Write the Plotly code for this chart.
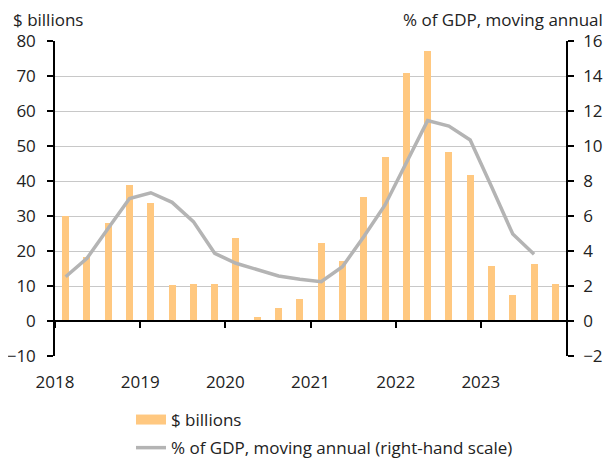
import plotly.graph_objects as go

quarters = ["2018Q1", "2018Q2", "2018Q3", "2018Q4",
            "2019Q1", "2019Q2", "2019Q3", "2019Q4",
            "2020Q1", "2020Q2", "2020Q3", "2020Q4",
            "2021Q1", "2021Q2", "2021Q3", "2021Q4",
            "2022Q1", "2022Q2", "2022Q3", "2022Q4",
            "2023Q1", "2023Q2", "2023Q3", "2023Q4"]
billions = [30.1, 18.2, 28.0, 38.9,
            33.6, 10.4, 10.7, 10.7,
            23.8, 1.2, 3.7, 6.4,
            22.4, 17.2, 35.4, 46.9,
            71.0, 77.1, 48.2, 41.7,
            15.8, 7.4, 16.2, 10.7]
pct_quarters = quarters[:23]
pct_gdp = [2.53, 3.58, 5.3, 7.0,
           7.33, 6.78, 5.68, 3.87,
           3.3, 2.91, 2.57, 2.38,
           2.25, 3.1, 4.82, 6.63,
           9.0, 11.45, 11.14, 10.34,
           7.68, 4.97, 3.81]
year_ticks = [2018, 2019, 2020, 2021, 2022, 2023]
left_ticks = [-10, 0, 10, 20, 30, 40, 50, 60, 70, 80]
right_ticks = [-2, 0, 2, 4, 6, 8, 10, 12, 14, 16]


def qpos(q):
    return int(q[:4]) + (int(q[-1]) - 0.5) / 4


FONT = "Open Sans"
BAR_C = "#FFC880"
LINE_C = "#B4B4B4"
FS = 17

fig = go.Figure()
fig.add_trace(go.Bar(
    x=[qpos(q) for q in quarters], y=billions, width=0.082,
    marker=dict(color=BAR_C, line=dict(width=0)),
    name="$ billions", showlegend=False, legendgroup="b", yaxis="y"))
fig.add_trace(go.Scatter(
    x=[None], y=[None], mode="lines", line=dict(color=BAR_C, width=10),
    name="$ billions", legendgroup="b", yaxis="y"))
fig.add_trace(go.Scatter(
    x=[qpos(q) for q in pct_quarters], y=pct_gdp, mode="lines",
    line=dict(color=LINE_C, width=3.5),
    name="% of GDP, moving annual (right-hand scale)", yaxis="y2"))

# page has an 8px body margin, so the figure is 8px smaller than the window
fig.update_layout(
    width=604, height=457,
    margin=dict(l=47, r=46, t=33, b=109, autoexpand=False),
    paper_bgcolor="white", plot_bgcolor="white",
    font=dict(family=FONT, size=FS, color="#222222"),
    bargap=0,
    xaxis=dict(range=[2018, 2024], tickvals=year_ticks,
               ticktext=[str(y) for y in year_ticks],
               showgrid=False, showline=True, linecolor="black", linewidth=1.5,
               ticks="outside", ticklen=6, tickcolor="black", tickwidth=1.5,
               anchor="free", position=10 / 90, ticklabelstandoff=40,
               tickfont=dict(size=FS), zeroline=False, automargin=False),
    yaxis=dict(range=[-10, 80], tickvals=left_ticks,
               showgrid=True, gridcolor="#C8C8C8", gridwidth=1,
               showline=True, linecolor="black", linewidth=1.5,
               ticks="outside", ticklen=6, tickcolor="black", tickwidth=1.5,
               ticklabelstandoff=8, zeroline=False, automargin=False),
    yaxis2=dict(range=[-2, 16], tickvals=right_ticks, overlaying="y", side="right",
                showgrid=False, showline=True, linecolor="black", linewidth=1.5,
                ticks="outside", ticklen=6, tickcolor="black", tickwidth=1.5,
                ticklabelstandoff=6, zeroline=False, automargin=False),
    legend=dict(x=0.1487, y=-0.146, xanchor="left", yanchor="top",
                orientation="v", font=dict(size=FS), itemwidth=30,
                bgcolor="rgba(0,0,0,0)", tracegroupgap=3),
    annotations=[
        dict(text="$ billions", xref="paper", yref="paper", x=-0.086, y=1.0667,
             xanchor="left", yanchor="middle", showarrow=False,
             font=dict(size=FS)),
        dict(text="% of GDP, moving annual", xref="paper", yref="paper", x=1.076, y=1.0667,
             xanchor="right", yanchor="middle", showarrow=False,
             font=dict(size=FS)),
    ],
)

fig.write_html("out.html")
